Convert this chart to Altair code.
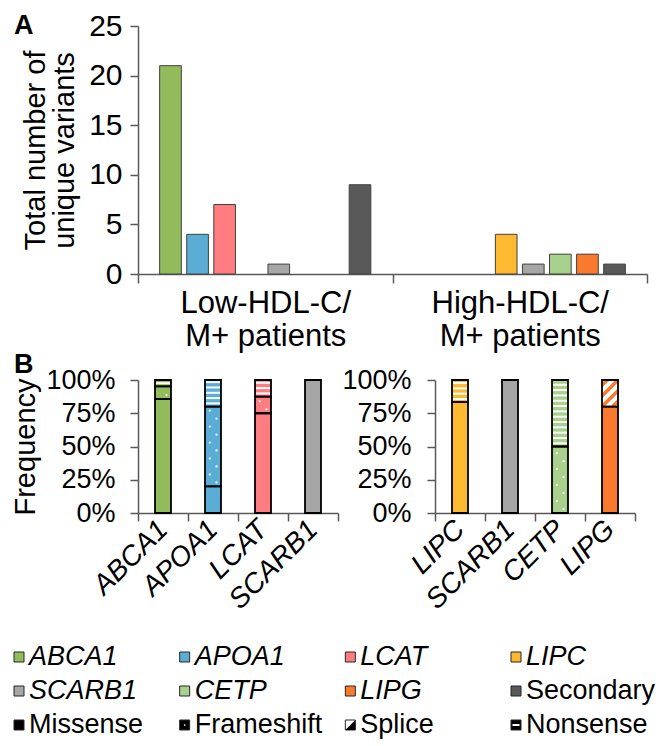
import altair as alt
import pandas as pd

FONT = "Liberation Sans"
AXIS_COLOR = "#595959"

# ---------------- Panel A data ----------------
genes_a = ["ABCA1", "APOA1", "LCAT", "LIPC", "SCARB1", "CETP", "LIPG", "Secondary"]
gene_colors = ["#92BC5B", "#5AAED6", "#FF7C80", "#FDBA31", "#A6A6A6", "#A9D18E", "#FA7A2D", "#595959"]
groups_a = ["Low-HDL-C/|M+ patients", "High-HDL-C/|M+ patients"]
low_counts = [21, 4, 7, 0, 1, 0, 0, 9]
high_counts = [0, 0, 0, 4, 1, 2, 2, 1]

# ---------------- Panel B data (percent of variants) ----------------
types_b = ["Missense", "Frameshift", "Splice", "Nonsense"]
genes_b_left = ["ABCA1", "APOA1", "LCAT", "SCARB1"]
missense_left = [85.7, 20.0, 75.0, 100.0]
frameshift_left = [9.5, 60.0, 12.5, 0.0]
splice_left = [0.0, 0.0, 0.0, 0.0]
nonsense_left = [4.8, 20.0, 12.5, 0.0]

genes_b_right = ["LIPC", "SCARB1", "CETP", "LIPG"]
missense_right = [83.3, 100.0, 0.0, 80.0]
frameshift_right = [0.0, 0.0, 50.0, 0.0]
splice_right = [0.0, 0.0, 0.0, 20.0]
nonsense_right = [16.7, 0.0, 50.0, 0.0]
freq_ticks = [0, 25, 50, 75, 100]

# ---------------- Legend ----------------
legend_names = ["ABCA1", "APOA1", "LCAT", "LIPC",
                "SCARB1", "CETP", "LIPG", "Secondary",
                "Missense", "Frameshift", "Splice", "Nonsense"]
type_fills = {"Missense": "#000000", "Frameshift": "#000000", "Splice": "#FFFFFF", "Nonsense": "#000000"}

color_of = dict(zip(genes_a, gene_colors))

# ================= Panel A =================
rows_a = []
for g, lo, hi in zip(genes_a, low_counts, high_counts):
    if lo > 0:
        rows_a.append({"group": groups_a[0], "gene": g, "count": lo})
    if hi > 0:
        rows_a.append({"group": groups_a[1], "gene": g, "count": hi})
df_a = pd.DataFrame(rows_a)

bars_a = alt.Chart(df_a).mark_bar(stroke="#404040", strokeWidth=1).encode(
    x=alt.X("group:N", sort=groups_a, title=None,
            scale=alt.Scale(domain=groups_a, paddingInner=0, paddingOuter=0),
            axis=alt.Axis(labelAngle=0, tickBand="extent", labelExpr="split(datum.label, '|')",
                          labelFontSize=31, labelLineHeight=33, labelPadding=5, tickSize=9,
                          labelBaseline="top", labelOverlap=False)),
    xOffset=alt.XOffset("gene:N", sort=genes_a,
                        scale=alt.Scale(domain=genes_a, paddingInner=0.2, paddingOuter=0.8)),
    y=alt.Y("count:Q", scale=alt.Scale(domain=[0, 25]),
            title=["Total number of", "unique variants"],
            axis=alt.Axis(values=[0, 5, 10, 15, 20, 25], labelFontSize=30, tickSize=8,
                          labelPadding=8, titleFontSize=29, titleFontWeight="normal",
                          titlePadding=9, titleLineHeight=29, labelOverlap=False)),
    color=alt.Color("gene:N", scale=alt.Scale(domain=genes_a, range=gene_colors), legend=None),
)
letter_a = alt.Chart(pd.DataFrame({"t": ["A"]})).mark_text(
    align="left", baseline="top", fontSize=27, fontWeight="bold", font=FONT, color="black"
).encode(text="t:N", x=alt.value(-124), y=alt.value(-13))
panel_a = alt.layer(bars_a, letter_a).properties(width=509, height=248)


# ================= Panel B =================
def segments(genes, miss, fs, sp, ns):
    rows = []
    for i, g in enumerate(genes):
        s = 0.0
        for t, v in zip(types_b, (miss[i], fs[i], sp[i], ns[i])):
            if v > 0:
                rows.append(dict(gene=g, type=t, start=s, end=s + v,
                                 fill="#FFFFFF" if t == "Splice" else color_of[g],
                                 color=color_of[g]))
                s += v
    return rows


def pattern_frames(rows):
    stripes, dots, diag = [], [], []
    for r in rows:
        lo, hi = r["start"], r["end"]
        if r["type"] == "Nonsense":
            y = lo + 2.4
            while y < hi - 1.0:
                stripes.append(dict(gene=r["gene"], y=y))
                y += 4.0
        elif r["type"] == "Frameshift":
            y, k = lo + 3.0, 0
            while y < hi - 1.5:
                dots.append(dict(gene=r["gene"], y=y, f=0.3 if k % 2 else 0.72))
                y += 6.0
                k += 1
        elif r["type"] == "Splice":
            rise, step = 12.0, 8.0
            c, k = lo - rise + 4.0, 0
            while c < hi:
                f0 = max(0.0, (lo - c) / rise)
                f1 = min(1.0, (hi - c) / rise)
                if f1 - f0 > 0.05:
                    for f in (f0, f1):
                        diag.append(dict(gene=r["gene"], line=k, f=f, y=c + rise * f, color=r["color"]))
                c += step
                k += 1
    return stripes, dots, diag


def panel_b(genes, miss, fs, sp, ns, y_title, letter, label_pad):
    rows = segments(genes, miss, fs, sp, ns)
    seg = pd.DataFrame(rows)
    stripes, dots, diag = pattern_frames(rows)
    xaxis = alt.Axis(tickBand="extent", labelAngle=315, labelAlign="right", labelBaseline="middle",
                     labelFontStyle="italic", labelFontSize=28, labelPadding=4, tickSize=8,
                     labelOverlap=False)
    xenc = alt.X("gene:N", sort=genes, title=None,
                 scale=alt.Scale(domain=genes, paddingInner=0, paddingOuter=0), axis=xaxis)
    yscale = alt.Scale(domain=[0, 100])
    yaxis = alt.Axis(values=freq_ticks, tickCount=5, labelExpr="datum.value + '%'", tickSize=8,
                     labelPadding=label_pad, labelFontSize=27, titleFontSize=29,
                     titleFontWeight="normal", titlePadding=5, labelOverlap=False)

    def ydef(field):
        return alt.Y(field, scale=yscale, axis=yaxis, title=y_title)

    offs = alt.XOffset("f:Q", scale=alt.Scale(domain=[0, 1], range=[17, 33]))

    layers = [alt.Chart(seg).mark_bar(width=16).encode(
        x=xenc, y=ydef("start:Q"), y2="end:Q", fill=alt.Fill("fill:N", scale=None))]
    if stripes:
        layers.append(alt.Chart(pd.DataFrame(stripes)).mark_tick(
            color="white", thickness=2, size=14, orient="horizontal", opacity=1).encode(
            x=xenc, y=ydef("y:Q")))
    if dots:
        layers.append(alt.Chart(pd.DataFrame(dots)).mark_circle(
            color="white", size=5, opacity=1).encode(
            x=xenc, xOffset=offs, y=ydef("y:Q")))
    if diag:
        layers.append(alt.Chart(pd.DataFrame(diag)).mark_line(strokeWidth=3.5).encode(
            x=xenc, xOffset=offs, y=ydef("y:Q"), detail="line:N",
            stroke=alt.Stroke("color:N", scale=None)))
    layers.append(alt.Chart(seg).mark_bar(width=16, fillOpacity=0, stroke="black", strokeWidth=1.8).encode(
        x=xenc, y=ydef("start:Q"), y2="end:Q"))
    if letter:
        layers.append(alt.Chart(pd.DataFrame({"t": [letter]})).mark_text(
            align="left", baseline="top", fontSize=27, fontWeight="bold", font=FONT, color="black"
        ).encode(text="t:N", x=alt.value(-124), y=alt.value(-28)))
    return alt.layer(*layers).properties(width=200, height=133)


panel_b_left = panel_b(genes_b_left, missense_left, frameshift_left, splice_left, nonsense_left,
                       "Frequency", "B", 15)
panel_b_right = panel_b(genes_b_right, missense_right, frameshift_right, splice_right, nonsense_right,
                        None, None, 16)
panel_b_all = alt.hconcat(panel_b_left, panel_b_right, spacing=2).resolve_scale(xOffset="independent")

# ================= Legend =================
leg_rows = []
for i, name in enumerate(legend_names):
    is_gene = name in color_of and name != "Secondary"
    fill = color_of[name] if name in color_of else type_fills[name]
    leg_rows.append(dict(name=name, col=i % 4, row=i // 4, fill=fill,
                         style="italic" if is_gene else "normal"))
df_leg = pd.DataFrame(leg_rows)

lx = alt.X("col:Q", scale=alt.Scale(domain=[0, 3], range=[-119, 378]), axis=None)
ly = alt.Y("row:Q", scale=alt.Scale(domain=[-0.5, 2.5], reverse=True), axis=None)
leg_base = alt.Chart(df_leg)
leg_sq = leg_base.mark_square(size=100, stroke="#262626", strokeWidth=1, opacity=1).encode(
    x=lx, y=ly, fill=alt.Fill("fill:N", scale=None))
leg_splice = leg_base.transform_filter("datum.name == 'Splice'").mark_point(
    shape="M -1 1 L 1 -1 L 1 1 Z", filled=True, color="black", size=100, opacity=1).encode(x=lx, y=ly)
leg_nons = leg_base.transform_filter("datum.name == 'Nonsense'").mark_tick(
    color="white", thickness=2, size=7, orient="horizontal", opacity=1).encode(x=lx, y=ly)
leg_fs = leg_base.transform_filter("datum.name == 'Frameshift'").mark_circle(
    color="white", size=3, opacity=1).encode(x=lx, y=ly)
leg_it = leg_base.transform_filter("datum.style == 'italic'").mark_text(
    align="left", baseline="middle", dx=10, fontSize=27, fontStyle="italic", font=FONT, color="black"
).encode(x=lx, y=ly, text="name:N")
leg_nm = leg_base.transform_filter("datum.style == 'normal'").mark_text(
    align="left", baseline="middle", dx=10, fontSize=27, font=FONT, color="black"
).encode(x=lx, y=ly, text="name:N")
legend = alt.layer(leg_sq, leg_splice, leg_nons, leg_fs, leg_it, leg_nm).properties(width=378, height=102)

inner = alt.vconcat(panel_a, panel_b_all, spacing=0).resolve_scale(xOffset="independent")
chart = alt.vconcat(inner, legend, spacing=25).properties(
    padding={"left": 3, "top": 3, "right": 0, "bottom": 0}
).configure_axis(
    labelFont=FONT, titleFont=FONT, labelColor="black", titleColor="black",
    domainColor=AXIS_COLOR, tickColor=AXIS_COLOR, domainWidth=1.5, tickWidth=1.5, grid=False
).configure_view(strokeWidth=0).configure_text(font=FONT)

chart.save("out.html", embed_options={"renderer": "svg", "actions": False})
